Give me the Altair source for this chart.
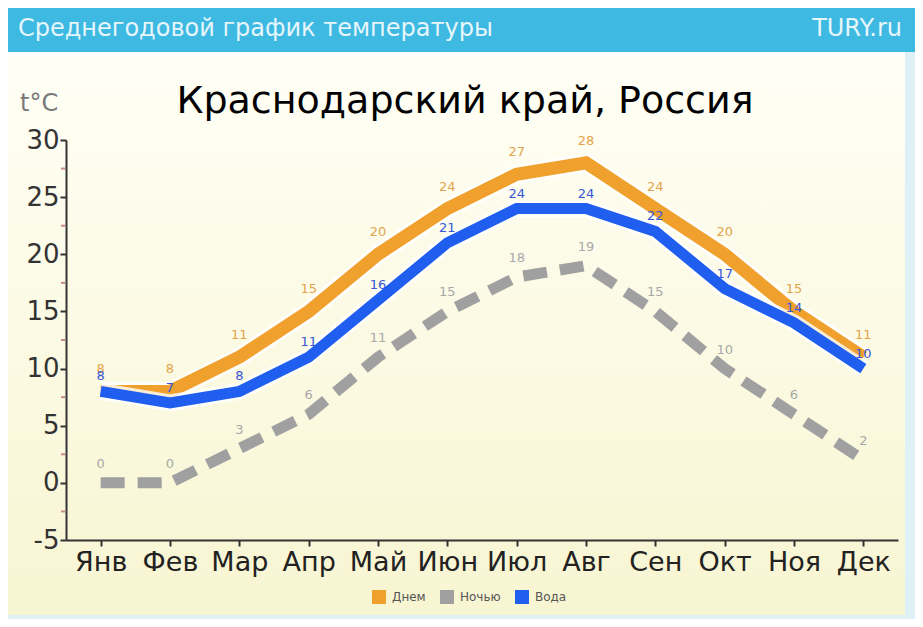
import altair as alt
import pandas as pd

months = ["Янв", "Фев", "Мар", "Апр", "Май", "Июн", "Июл", "Авг", "Сен", "Окт", "Ноя", "Дек"]
day = [8, 8, 11, 15, 20, 24, 27, 28, 24, 20, 15, 11]
night = [0, 0, 3, 6, 11, 15, 18, 19, 15, 10, 6, 2]
water = [8, 7, 8, 11, 16, 21, 24, 24, 22, 17, 14, 10]
series_names = ["Днем", "Ночью", "Вода"]
series_colors = ["#F0A02C", "#A0A0A0", "#1F5EEE"]
label_colors = ["#E3A44C", "#A8A8A8", "#3658D8"]
y_ticks = [-5, 0, 5, 10, 15, 20, 25, 30]
minor_ticks = [-2.5, 2.5, 7.5, 12.5, 17.5, 22.5, 27.5]

header_text = "Среднегодовой график температуры"
brand_text = "TURY.ru"
title_text = "Краснодарский край, Россия"
unit_text = "t°C"

rows = []
for name, vals in zip(series_names, [day, night, water]):
    for m, v in zip(months, vals):
        rows.append({"m": m, "s": name, "v": v})
df = pd.DataFrame(rows)
one = pd.DataFrame({"a": [0]})
minor_df = pd.DataFrame({"v": minor_ticks})

W, H = 832, 400

xenc = alt.X("m:N", sort=months, scale=alt.Scale(type="point", padding=0.5),
             axis=alt.Axis(title=None, labelAngle=0, labelFontSize=27, labelColor="#222",
                           labelFont="DejaVu Sans", domainColor="#333", domainWidth=2,
                           tickColor="#333", tickWidth=2, tickSize=6, labelPadding=3,
                           zindex=1))
yenc = alt.Y("v:Q", scale=alt.Scale(domain=[-5, 30], nice=False, zero=False),
             axis=alt.Axis(title=None, values=y_ticks, labelFontSize=26, labelColor="#333",
                           labelFont="DejaVu Sans", domainColor="#333", domainWidth=2,
                           tickColor="#333", tickWidth=2, tickSize=6, labelPadding=1,
                           labelExpr="'' + datum.value", grid=False, zindex=1))

bg_header = alt.Chart(one).mark_rect(color="#3DB9E2").encode(
    x=alt.value(-58), x2=alt.value(W + 17), y=alt.value(-132), y2=alt.value(-88))
bg_white = alt.Chart(one).mark_rect(color="#FFFFFF").encode(
    x=alt.value(-58), x2=alt.value(W + 7), y=alt.value(-88), y2=alt.value(-84))
bg_panel = alt.Chart(one).mark_rect(
    color=alt.Gradient(gradient="linear",
                       stops=[alt.GradientStop(color="#FFFFF6", offset=0),
                              alt.GradientStop(color="#FBF9E0", offset=0.6),
                              alt.GradientStop(color="#F8F5D2", offset=1)],
                       x1=0, x2=0, y1=0, y2=1)
).encode(x=alt.value(-58), x2=alt.value(W + 7), y=alt.value(-84), y2=alt.value(H + 75))

t_header = alt.Chart(one).mark_text(align="left", baseline="middle", fontSize=24,
                                    font="DejaVu Sans", color="#E6F6FB").encode(
    x=alt.value(-48), y=alt.value(-111), text=alt.value(header_text))
t_brand = alt.Chart(one).mark_text(align="right", baseline="middle", fontSize=24,
                                   font="DejaVu Sans", color="#E6F6FB").encode(
    x=alt.value(W + 4), y=alt.value(-111), text=alt.value(brand_text))
t_title = alt.Chart(one).mark_text(align="center", baseline="middle", fontSize=38,
                                   font="DejaVu Sans", color="#000").encode(
    x=alt.value(399), y=alt.value(-38), text=alt.value(title_text))
t_unit = alt.Chart(one).mark_text(align="left", baseline="middle", fontSize=24,
                                  font="DejaVu Sans", color="#777").encode(
    x=alt.value(-46), y=alt.value(-36), text=alt.value(unit_text))

minor = alt.Chart(minor_df).mark_rule(color="#C88A8A", strokeWidth=2).encode(
    y=yenc, x=alt.value(-5), x2=alt.value(-1))


def line_layer(name, color, width, dash=None, halo=True):
    base = alt.Chart(df).transform_filter(alt.datum.s == name)
    layers = []
    if halo:
        layers.append(base.mark_line(color="#FFFFFF", strokeWidth=width + 6, opacity=0.8,
                                     strokeJoin="miter").encode(x=xenc, y=yenc))
    kw = dict(color=color, strokeWidth=width, strokeJoin="miter")
    if dash:
        kw["strokeDash"] = dash
        kw["strokeCap"] = "butt"
    layers.append(base.mark_line(**kw).encode(x=xenc, y=yenc))
    return layers


def label_layer(name, color, dy):
    return alt.Chart(df).transform_filter(alt.datum.s == name).mark_text(
        fontSize=13, font="DejaVu Sans", color=color, dy=dy, baseline="middle"
    ).encode(x=xenc, y=yenc, text="v:Q")


legend_layer = alt.Chart(df).transform_filter("datum.v < -100").mark_square(
    size=196, opacity=1).encode(
    x=xenc, y=yenc,
    fill=alt.Fill("s:N", scale=alt.Scale(domain=series_names, range=series_colors),
                  legend=alt.Legend(title=None, orient="none", legendX=306, legendY=450,
                                    direction="horizontal", symbolType="square",
                                    symbolSize=196, labelFontSize=12, labelColor="#555",
                                    labelFont="DejaVu Sans", columnPadding=14,
                                    labelOffset=6, symbolStrokeWidth=0,
                                    symbolOpacity=1)))

layers = [bg_header, bg_white, bg_panel, t_header, t_brand, t_title, t_unit, minor]
layers += line_layer("Ночью", series_colors[1], 11, dash=[24, 13], halo=False)
layers += line_layer("Днем", series_colors[0], 13)
layers += line_layer("Вода", series_colors[2], 11)
layers += [label_layer("Днем", label_colors[0], -22), label_layer("Ночью", label_colors[1], -19),
           label_layer("Вода", label_colors[2], -15), legend_layer]

chart = alt.layer(*layers).properties(
    width=W, height=H,
    autosize=alt.AutoSizeParams(type="none"),
    padding={"left": 58, "top": 132, "right": 17, "bottom": 79},
).configure(background="#DDF1F6").configure_view(stroke=None)

chart.save("out.html", embed_options={"renderer": "svg", "actions": False})
